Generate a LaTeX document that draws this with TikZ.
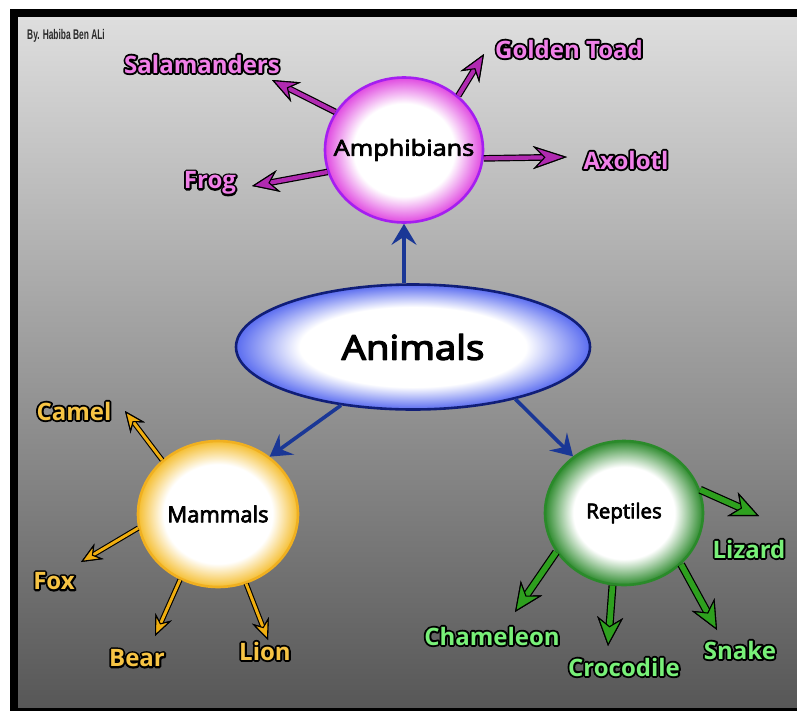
\documentclass[tikz,border=0pt]{standalone}
\usepackage{fontspec}
\setmainfont{Open Sans}
\newfontfamily\creditfont{Liberation Sans}
\usetikzlibrary{arrows.meta,shapes.geometric,calc}

\definecolor{bgTop}{HTML}{DEDEDE}
\definecolor{bgBot}{HTML}{575757}
\definecolor{creditc}{HTML}{2A2A2A}
\definecolor{amphEdge}{HTML}{E048E0}
\definecolor{amphBorder}{HTML}{A51EF0}
\definecolor{amphArrow}{HTML}{B02AB0}
\definecolor{amphLabel}{HTML}{F080E8}
\definecolor{animEdge}{HTML}{5A6CF0}
\definecolor{animBorder}{HTML}{101E78}
\definecolor{blueArrow}{HTML}{1A3796}
\definecolor{mamEdge}{HTML}{F5BE30}
\definecolor{mamBorder}{HTML}{F0B020}
\definecolor{mamArrow}{HTML}{F0AE10}
\definecolor{mamLabel}{HTML}{F7C444}
\definecolor{repEdge}{HTML}{2E8B2E}
\definecolor{repBorder}{HTML}{2A8A2A}
\definecolor{repArrow}{HTML}{2EA01E}
\definecolor{repLabel}{HTML}{78F078}

\pgfdeclareradialshading{amphsh}{\pgfpoint{0bp}{0bp}}{color(0bp)=(white); color(16bp)=(white); color(25bp)=(amphEdge); color(50bp)=(amphEdge)}
\pgfdeclareradialshading{animsh}{\pgfpoint{0bp}{0bp}}{color(0bp)=(white); color(16bp)=(white); color(25bp)=(animEdge); color(50bp)=(animEdge)}
\pgfdeclareradialshading{mamsh}{\pgfpoint{0bp}{0bp}}{color(0bp)=(white); color(17bp)=(white); color(25bp)=(mamEdge); color(50bp)=(mamEdge)}
\pgfdeclareradialshading{repsh}{\pgfpoint{0bp}{0bp}}{color(0bp)=(white); color(16bp)=(white); color(25bp)=(repEdge); color(50bp)=(repEdge)}

% black outline behind coloured text: stroked copy, then filled copy
\newcommand{\outl}[1]{\makebox[0pt][l]{\special{pdf:literal direct 0 0 0 RG 1 Tr 3.8 w 1 j}#1\special{pdf:literal direct 0 Tr}}#1}
% emboldened black text (fill + thin stroke)
\newcommand{\emb}[2]{\special{pdf:literal direct 0 0 0 RG 2 Tr #1 w 1 j}#2\special{pdf:literal direct 0 Tr}}

\tikzset{
  topic/.style={ellipse, inner sep=0pt, line width=2.6pt},
  lbltxt/.style={inner sep=0pt, font=\bfseries\fontsize{24}{24}\selectfont},
  bluearr/.style={line width=3.6pt, blueArrow, -{Stealth[length=21pt,width=25pt,inset=8pt]}},
}

% outlined arrow: colour, shaft width, outer shaft width, tip spec, from, to
\newcommand{\oarr}[6]{%
  \draw[line width=#3, black, -{Stealth[#4, line width=1.1pt]}] #5 -- #6;
  \draw[line width=#2, #1, -{Stealth[#4, line width=1.1pt, color=black, fill=#1]}] #5 -- #6;}

\begin{document}
\begin{tikzpicture}[x=1pt,y=-1pt]
\useasboundingbox (0,0) rectangle (797,712);
\fill[white] (0,0) rectangle (797,712);
\fill[black] (10,9) rectangle (797,711);
\shade[top color=bgTop, bottom color=bgBot] (18,17) rectangle (797,707);

\node[anchor=west, inner sep=0pt, text=creditc] (credit) at (27,36)
  {\scalebox{0.6}[1]{\creditfont\bfseries\fontsize{14}{14}\selectfont By. Habiba Ben ALi}};

% topic nodes
\node[topic, draw=amphBorder, shading=amphsh, minimum width=158pt, minimum height=145pt] (amph) at (404,150)
  {\makebox[0pt]{\scalebox{1.15}[1]{\fontsize{22}{22}\selectfont\emb{0.7}{Amphibians}}}};
\node[topic, draw=animBorder, shading=animsh, minimum width=354pt, minimum height=125pt] (anim) at (413,347)
  {\makebox[0pt]{\scalebox{1.13}[1]{\fontsize{34}{34}\selectfont\emb{1.3}{Animals}}}};
\node[topic, draw=mamBorder, shading=mamsh, minimum width=160pt, minimum height=146pt] (mam) at (218,514)
  {\makebox[0pt]{\fontsize{22}{22}\selectfont\emb{0.7}{Mammals}}};
\node[topic, draw=repBorder, shading=repsh, minimum width=158pt, minimum height=144pt] (rep) at (624,513)
  {\makebox[0pt]{\fontsize{20.5}{20.5}\selectfont\emb{0.7}{Reptiles}}};

% labels
\node[lbltxt, text=amphLabel] (sal)  at (202,64)  {\outl{Salamanders}};
\node[lbltxt, text=amphLabel] (gold) at (569,49)  {\outl{Golden Toad}};
\node[lbltxt, text=amphLabel] (frog) at (210,183) {\outl{Frog}};
\node[lbltxt, text=amphLabel] (axo)  at (626,160) {\outl{Axolotl}};
\node[lbltxt, text=mamLabel] (camel) at (74,411)  {\outl{Camel}};
\node[lbltxt, text=mamLabel] (fox)   at (54,581)  {\outl{Fox}};
\node[lbltxt, text=mamLabel] (bear)  at (137,658) {\outl{Bear}};
\node[lbltxt, text=mamLabel] (lion)  at (265,651) {\outl{Lion}};
\node[lbltxt, text=repLabel] (cham)  at (492,636) {\outl{Chameleon}};
\node[lbltxt, text=repLabel] (croc)  at (624,667) {\outl{Crocodile}};
\node[lbltxt, text=repLabel] (snake) at (740,650) {\outl{Snake}};
\node[lbltxt, text=repLabel] (liz)   at (749,549) {\outl{Lizard}};

% free arrow ends
\coordinate (tSal) at (272,80);
\coordinate (tGold) at (484,54);
\coordinate (tFrog) at (252,186);
\coordinate (tAxo) at (567,157);
\coordinate (tCamel) at (125,411);
\coordinate (tFox) at (81,562);
\coordinate (tBear) at (155,636);
\coordinate (tLion) at (268,640);
\coordinate (tLiz) at (759,516);
\coordinate (tCham) at (515,612);
\coordinate (tCroc) at (608,646);
\coordinate (tSnake) at (717,630);

% blue arrows
\draw[bluearr] (anim.north -| amph.south) -- (amph.south);
\draw[bluearr] (anim.219) -- (mam.48);
\draw[bluearr] (anim.333) -- (rep.132);

% amphibian arrows
\oarr{amphArrow}{4.2pt}{6.6pt}{length=27pt,width=22pt,inset=9pt}{(amph.151)}{(tSal)}
\oarr{amphArrow}{4.2pt}{6.6pt}{length=27pt,width=22pt,inset=9pt}{(amph.45)}{(tGold)}
\oarr{amphArrow}{4.2pt}{6.6pt}{length=27pt,width=22pt,inset=9pt}{(amph.196)}{(tFrog)}
\oarr{amphArrow}{4.2pt}{6.6pt}{length=34pt,width=23pt,inset=11pt}{(amph.354)}{(tAxo)}

% mammal arrows
\oarr{mamArrow}{3pt}{5.2pt}{length=21pt,width=18pt,inset=7pt}{(mam.136)}{(tCamel)}
\oarr{mamArrow}{3pt}{5.2pt}{length=21pt,width=18pt,inset=7pt}{(mam.190)}{(tFox)}
\oarr{mamArrow}{3pt}{5.2pt}{length=21pt,width=18pt,inset=7pt}{(mam.240)}{(tBear)}
\oarr{mamArrow}{3pt}{5.2pt}{length=21pt,width=18pt,inset=7pt}{(mam.292)}{(tLion)}

% reptile arrows
\oarr{repArrow}{5.6pt}{8pt}{length=29pt,width=26pt,inset=9pt}{(rep.17)}{(tLiz)}
\oarr{repArrow}{5.6pt}{8pt}{length=29pt,width=26pt,inset=9pt}{(rep.210)}{(tCham)}
\oarr{repArrow}{5.6pt}{8pt}{length=29pt,width=26pt,inset=9pt}{(rep.261)}{(tCroc)}
\oarr{repArrow}{5.6pt}{8pt}{length=29pt,width=26pt,inset=9pt}{(rep.318)}{(tSnake)}
\end{tikzpicture}
\end{document}
